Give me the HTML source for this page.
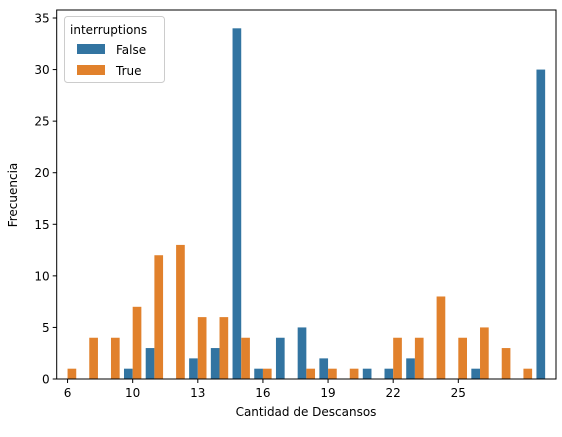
<!DOCTYPE html>
<html><head><meta charset="utf-8"><style>
body{margin:0;background:#fff}
svg text{font-family:"DejaVu Sans","Liberation Sans",sans-serif;fill:#000}
</style></head><body>
<svg id="chart" width="562" height="432" xmlns="http://www.w3.org/2000/svg">
<g id="bars"></g>
<g id="axes"></g>
</svg>
<script>
const categories = ["6","8","9","10","11","12","13","14","15","16","17","18","19","20","21","22","23","24","25","26","27","28","30"];
const tickLabels = ["6","","","10","","","13","","","16","","","19","","","22","","","25","","","",""];
const falseValues = [0,0,0,1,3,0,2,3,34,1,4,5,2,0,1,1,2,0,0,1,0,0,30];
const trueValues  = [1,4,4,7,12,13,6,6,4,1,0,1,1,1,0,4,4,8,4,5,3,1,0];
const yTicks = [0,5,10,15,20,25,30,35];

const NS="http://www.w3.org/2000/svg";
const L=56.7,R=556,T=10,B=379,yMax=35.0;
const step=(R-L)/categories.length;
const xC=i=>L+step*(i+0.5);
const yS=v=>B-(v/yMax)*(B-18);
const bw=step*0.4;
function mk(tag,attrs,parent){const e=document.createElementNS(NS,tag);for(const k in attrs)e.setAttribute(k,attrs[k]);parent.appendChild(e);return e;}
const bars=document.getElementById('bars'),axes=document.getElementById('axes');
categories.forEach((c,i)=>{
  if(falseValues[i]>0){const r=mk('rect',{x:xC(i)-bw,y:yS(falseValues[i]),width:bw,height:B-yS(falseValues[i]),fill:'#3274a1'},bars);
    
    }
  if(trueValues[i]>0){const r=mk('rect',{x:xC(i),y:yS(trueValues[i]),width:bw,height:B-yS(trueValues[i]),fill:'#e1812c'},bars);
    
    }
});
mk('rect',{x:L,y:T,width:R-L,height:B-T,fill:'none',stroke:'#000','stroke-width':1},axes);
tickLabels.forEach((t,i)=>{if(!t)return;const x=xC(i);
  mk('line',{x1:x,y1:B,x2:x,y2:B+4,stroke:'#000'},axes);
  const tx=mk('text',{x:x,y:B+18,'text-anchor':'middle','font-size':12},axes);tx.textContent=t;
  
  });
yTicks.forEach(v=>{const y=yS(v);
  mk('line',{x1:L-4,y1:y,x2:L,y2:y,stroke:'#000'},axes);
  const tx=mk('text',{x:L-7,y:y+4.5,'text-anchor':'end','font-size':12},axes);tx.textContent=v;
  
  });
</script>
<svg style="position:absolute;left:0;top:0" width="562" height="432">
<text x="306" y="416" text-anchor="middle" font-size="12">Cantidad de Descansos</text>
<text x="17" y="195" text-anchor="middle" font-size="12" transform="rotate(-90 17 195)">Frecuencia</text>
<g>
<rect x="64.5" y="16.5" width="100" height="66" rx="3" fill="#fff" fill-opacity="0.8" stroke="#ccc"/>
<text x="70" y="34" font-size="12">interruptions</text>
<rect x="77" y="44" width="28" height="10" fill="#3274a1"/>
<text x="116" y="54" font-size="12">False</text>
<rect x="77" y="65" width="28" height="10" fill="#e1812c"/>
<text x="116" y="75" font-size="12">True</text>
</g>
</svg>
</body></html>
